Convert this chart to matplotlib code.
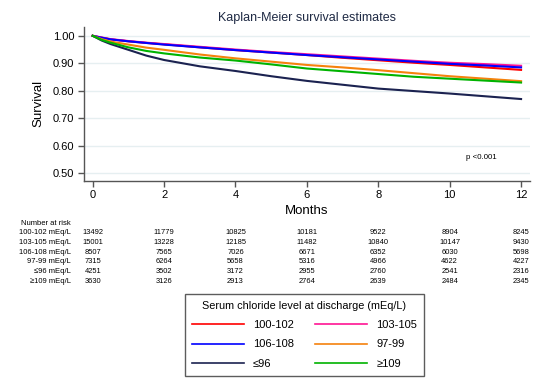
import matplotlib.pyplot as plt
from matplotlib.transforms import blended_transform_factory

plt.rcParams['font.family'] = ['Liberation Sans', 'DejaVu Sans']

# survival estimates at these months
months = [0, 0.25, 0.5, 1, 1.5, 2, 3, 4, 5, 6, 7, 8, 9, 10, 11, 12]

groups = ["100-102", "103-105", "106-108", "97-99", "≤96", "≥109"]
colors = ["#ff0000", "#ff1493", "#0000ff", "#f5820d", "#1b2250", "#00b300"]

surv = {
    "100-102": [1.0, 0.993, 0.987, 0.980, 0.974, 0.969, 0.958, 0.948, 0.939, 0.930, 0.920, 0.911, 0.902, 0.894, 0.885, 0.876],
    "103-105": [1.0, 0.994, 0.988, 0.981, 0.975, 0.970, 0.960, 0.950, 0.941, 0.933, 0.925, 0.917, 0.909, 0.902, 0.897, 0.891],
    "106-108": [1.0, 0.993, 0.987, 0.980, 0.974, 0.968, 0.958, 0.948, 0.939, 0.930, 0.922, 0.914, 0.906, 0.898, 0.892, 0.885],
    "97-99":   [1.0, 0.988, 0.979, 0.968, 0.957, 0.949, 0.932, 0.918, 0.906, 0.894, 0.885, 0.875, 0.864, 0.853, 0.844, 0.835],
    "≤96":     [1.0, 0.983, 0.970, 0.949, 0.928, 0.912, 0.889, 0.872, 0.853, 0.836, 0.822, 0.808, 0.799, 0.790, 0.780, 0.770],
    "≥109":    [1.0, 0.985, 0.975, 0.958, 0.945, 0.936, 0.921, 0.910, 0.896, 0.881, 0.871, 0.861, 0.851, 0.844, 0.837, 0.830],
}

risk_months = [0, 2, 4, 6, 8, 10, 12]
risk_labels = ["100-102 mEq/L", "103-105 mEq/L", "106-108 mEq/L", "97-99 mEq/L", "≤96 mEq/L", "≥109 mEq/L"]
risk = [
    [13492, 11779, 10825, 10181, 9522, 8904, 8245],
    [15001, 13228, 12185, 11482, 10840, 10147, 9430],
    [8507, 7565, 7026, 6671, 6352, 6030, 5698],
    [7315, 6264, 5658, 5316, 4966, 4622, 4227],
    [4251, 3502, 3172, 2955, 2760, 2541, 2316],
    [3630, 3126, 2913, 2764, 2639, 2484, 2345],
]

fig = plt.figure(figsize=(5.5, 3.86), dpi=100)
ax = fig.add_axes([84 / 550, 1 - 180.7 / 386, 446 / 550, 153.7 / 386])

lines = {}
for g, c in zip(groups, colors):
    lines[g], = ax.plot(months, surv[g], color=c, linewidth=1.5, label=g)

ax.set_xlim(-0.244, 12.25)
ax.set_ylim(0.473, 1.032)
ax.set_xticks(risk_months)
ax.set_yticks([0.5, 0.6, 0.7, 0.8, 0.9, 1.0])
ax.set_yticklabels(["0.50", "0.60", "0.70", "0.80", "0.90", "1.00"])
ax.yaxis.grid(True, color="#e6eff1", linewidth=1)
ax.set_axisbelow(True)
for s in ["top", "right"]:
    ax.spines[s].set_visible(False)
for s in ["left", "bottom"]:
    ax.spines[s].set_color("#555555")
    ax.spines[s].set_linewidth(1)
ax.tick_params(labelsize=8, direction="out", length=4, width=1, color="#555555", pad=3)
ax.set_ylabel("Survival", fontsize=9.5, labelpad=6)
ax.set_xlabel("Months", fontsize=9.5, labelpad=3)
ax.set_title("Kaplan-Meier survival estimates", fontsize=9, color="#1f2a44", pad=4)
ax.text(10.88, 0.556, "p <0.001", fontsize=5.7, ha="center", va="center")

# number at risk table
trans = blended_transform_factory(ax.transData, fig.transFigure)
fig.text(71 / 550, 1 - 223 / 386, "Number at risk", fontsize=5.5, ha="right", va="center")
for i, (lab, row) in enumerate(zip(risk_labels, risk)):
    y = 1 - (232.5 + i * 9.75) / 386
    fig.text(71 / 550, y, lab, fontsize=5.5, ha="right", va="center")
    for m, n in zip(risk_months, row):
        ax.text(m, y, str(n), transform=trans, fontsize=5.4, ha="center", va="center")

# legend fills column-wise, so order handles to read row-wise like the original
order = ["100-102", "106-108", "≤96", "103-105", "97-99", "≥109"]
leg = fig.legend([lines[g] for g in order], order, loc="center",
                 bbox_to_anchor=(304.5 / 550, 1 - 334.7 / 386), ncol=2,
                 title="Serum chloride level at discharge (mEq/L)", title_fontsize=7.8,
                 fontsize=8, handlelength=4.7, columnspacing=1.9, labelspacing=0.85,
                 handletextpad=0.8, frameon=True, fancybox=False, edgecolor="#333333",
                 borderpad=0.6)
leg.get_frame().set_linewidth(1)
for h in leg.legend_handles:
    h.set_linewidth(1.2)

fig.savefig("out.png", dpi=100)
